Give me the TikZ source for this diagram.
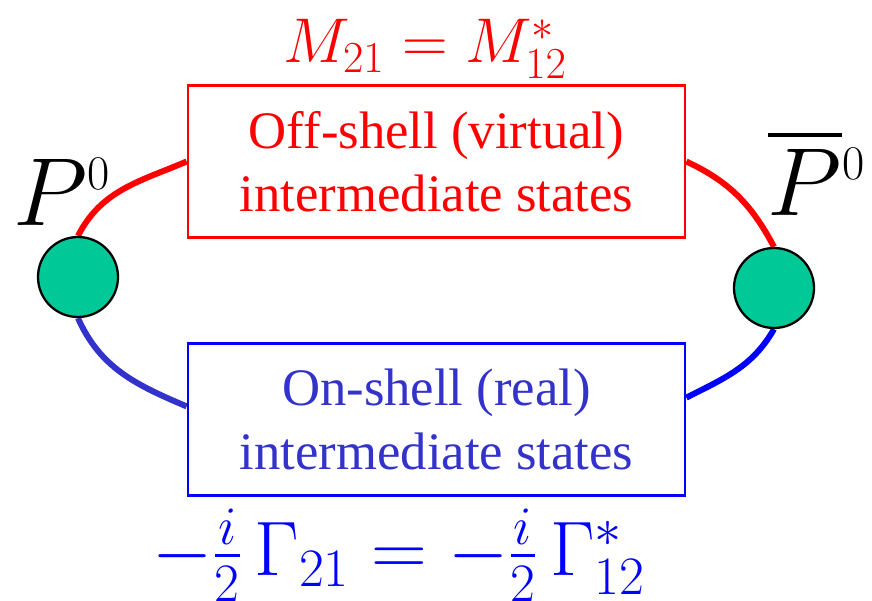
\RequirePackage{fix-cm}
\documentclass[tikz,border=0pt]{standalone}
\usepackage{amsmath}
\usepackage{amssymb}
\usepackage{fontspec}
\setmainfont{Liberation Serif}
\usepackage{tikz}
\usetikzlibrary{backgrounds}
\definecolor{mesongreen}{RGB}{0,201,151}
\definecolor{onblue}{RGB}{51,51,204}

\begin{document}
\begin{tikzpicture}[
    every node/.style={font=\fontsize{30}{36}\selectfont},
    statebox/.style={rectangle, draw, line width=1.5pt, minimum width=9.94cm, minimum height=3.04cm, align=center, inner sep=0pt},
    meson/.style={circle, draw=black, fill=mesongreen, line width=1.3pt, minimum size=1.6cm, inner sep=0pt},
    loopline/.style={line width=3.4pt},
    label/.style={anchor=base, inner sep=0pt}
]
\useasboundingbox (0,0) rectangle (17.44,12);

% Intermediate states
\node[statebox, draw=red, text=red] (offshell) at (8.73, 8.77) {Off-shell (virtual)\\intermediate states};
\node[statebox, draw=blue, text=onblue] (onshell) at (8.73, 3.61) {On-shell (real)\\intermediate states};

% Mesons
\node[meson] (P) at (1.56, 6.46) {};
\node[meson] (Pbar) at (15.48, 6.24) {};

\node[label, font=\fontsize{55}{60}\selectfont] (Plabel) at (1.24, 7.5) {$P^{\scriptscriptstyle 0}$};
\node[label, font=\fontsize{55}{60}\selectfont] (Pbarlabel) at (16.33, 7.7) {$\overline{P}{}^{\scriptscriptstyle 0}$};

% Loop through the states
\begin{scope}[on background layer]
\draw[loopline, red] (P.north) to[out=63, in=203] (offshell.west);
\draw[loopline, red] (offshell.east) to[out=-25, in=118] (Pbar.north);
\draw[loopline, onblue] (P.south) to[out=-66, in=157] (onshell.177);
\draw[loopline, blue] (onshell.5) to[out=27, in=240] (Pbar.south);
\end{scope}

% Matrix elements
\node[label, text=red, font=\fontsize{36}{40}\selectfont] (mixM) at (8.5, 10.74) {$M_{21} = M_{12}^{*}$};
\node[label, text=blue, font=\fontsize{44}{50}\selectfont] (mixG) at (7.98, 0.5) {$-\frac{i}{2}\,\Gamma_{21} = -\frac{i}{2}\,\Gamma_{12}^{*}$};

\end{tikzpicture}
\end{document}
